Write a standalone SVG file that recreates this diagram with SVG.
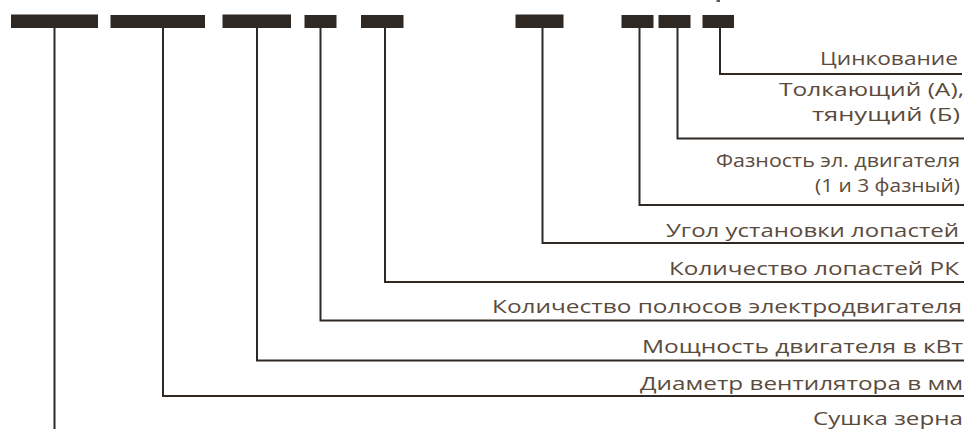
<svg xmlns="http://www.w3.org/2000/svg" width="970" height="429" viewBox="0 0 970 429">
<style>
.bar{fill:#302823}
.ln{fill:none;stroke:#302823;stroke-width:2}
.t{font-family:"Open Sans","Noto Sans","DejaVu Sans",sans-serif;font-size:18px;fill:#5b4b3d;text-anchor:end}
</style>
<rect width="970" height="429" fill="#ffffff"/>
<rect x="716.5" y="0" width="3.5" height="2" fill="#6b5a48"/>
<g id="segments">
<rect id="s1" class="bar" x="11" y="14.5" width="87" height="13.5"/>
<rect id="s2" class="bar" x="110.5" y="15" width="94.5" height="13"/>
<rect id="s3" class="bar" x="222.5" y="14.5" width="68.5" height="13.5"/>
<rect id="s4" class="bar" x="304.5" y="15" width="32" height="13"/>
<rect id="s5" class="bar" x="361" y="15" width="42.5" height="13"/>
<rect id="s6" class="bar" x="515.5" y="14.5" width="48" height="13.5"/>
<rect id="s7" class="bar" x="621.5" y="15" width="32" height="13"/>
<rect id="s8" class="bar" x="658.5" y="15" width="32" height="13"/>
<rect id="s9" class="bar" x="702.5" y="15" width="31.5" height="13"/>
</g>
<g id="connectors">
<path class="ln" d="M54.5 28 V429"/>
<path class="ln" d="M163 28 V396 H964"/>
<path class="ln" d="M257 28 V360.5 H964"/>
<path class="ln" d="M320.5 28 V320.5 H964"/>
<path class="ln" d="M385 28 V282 H964"/>
<path class="ln" d="M542.5 28 V243 H964"/>
<path class="ln" d="M639.5 28 V205 H964"/>
<path class="ln" d="M677.5 28 V138.5 H964"/>
<path class="ln" d="M720 28 V74 H962"/>
</g>
<g id="labels">
<text id="l9" class="t" x="958" y="65" textLength="138" lengthAdjust="spacingAndGlyphs">Цинкование</text>
<g id="l8">
<text class="t" x="964" y="96" textLength="185" lengthAdjust="spacingAndGlyphs">Толкающий (А),</text>
<text class="t" x="960" y="121" textLength="148" lengthAdjust="spacingAndGlyphs">тянущий (Б)</text>
</g>
<g id="l7">
<text class="t" x="960" y="167" textLength="244" lengthAdjust="spacingAndGlyphs">Фазность эл. двигателя</text>
<text class="t" x="960" y="192" textLength="145" lengthAdjust="spacingAndGlyphs">(1 и 3 фазный)</text>
</g>
<text id="l6" class="t" x="959" y="237" textLength="293" lengthAdjust="spacingAndGlyphs">Угол установки лопастей</text>
<text id="l5" class="t" x="959" y="275" textLength="290" lengthAdjust="spacingAndGlyphs">Количество лопастей РК</text>
<text id="l4" class="t" x="962" y="313" textLength="470" lengthAdjust="spacingAndGlyphs">Количество полюсов электродвигателя</text>
<text id="l3" class="t" x="963" y="353" textLength="321" lengthAdjust="spacingAndGlyphs">Мощность двигателя в кВт</text>
<text id="l2" class="t" x="963" y="390" textLength="323" lengthAdjust="spacingAndGlyphs">Диаметр вентилятора в мм</text>
<text id="l1" class="t" x="963" y="424.5" textLength="150" lengthAdjust="spacingAndGlyphs">Сушка зерна</text>
</g>
</svg>
